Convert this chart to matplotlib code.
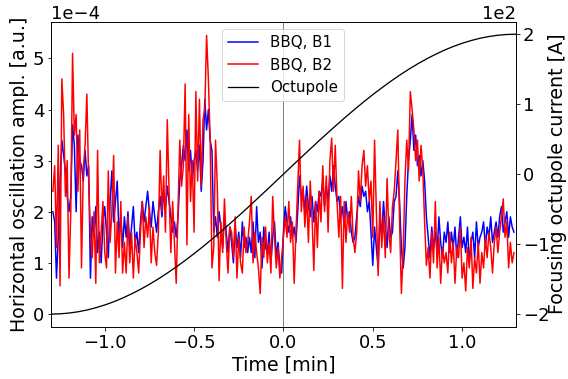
import numpy as np
import matplotlib
matplotlib.use('Agg')
import matplotlib.pyplot as plt

# 시간축 (min), 0.01 min 간격
time = np.round(np.arange(-1.29, 1.2901, 0.01), 2)

# BBQ B1 (blue) 진폭 [1e-4 a.u.] - 그림에서 읽은 값
bbq_b1 = [
    2.0, 1.8, 0.7, 1.5, 2.6, 3.4, 3.1, 2.8, 2.3, 2.0,
    2.3, 3.7, 3.3, 2.0, 3.5, 3.0, 2.9, 2.6, 3.2, 2.7,
    2.9, 0.7, 1.9, 1.5, 2.1, 1.2, 1.6, 1.0, 1.8, 2.1,
    1.6, 1.1, 2.2, 2.8, 1.8, 2.2, 2.6, 1.5, 1.9, 1.3,
    1.9, 1.5, 2.0, 1.3, 1.7, 2.1, 1.4, 1.6, 1.2, 1.8,
    2.2, 1.8, 2.1, 2.4, 2.0, 1.7, 2.2, 1.9, 1.6, 2.0,
    2.3, 1.9, 2.4, 2.1, 2.5, 2.2, 1.9, 1.6, 1.8, 1.5,
    1.9, 2.6, 2.9, 3.3, 3.0, 3.6, 2.8, 3.2, 2.6, 3.0,
    3.2, 2.8, 3.3, 2.4, 3.0, 4.2, 3.6, 4.0, 3.4, 3.2,
    1.6, 1.9, 1.5, 2.0, 1.7, 1.3, 1.9, 1.6, 1.2, 1.7,
    1.4, 1.0, 1.7, 1.3, 1.6, 1.1, 1.8, 1.3, 1.5, 1.2,
    1.5, 1.2, 1.8, 1.1, 2.1, 1.4, 1.6, 0.9, 1.7, 1.3,
    1.2, 1.6, 1.0, 1.5, 1.8, 1.1, 1.4, 0.9, 0.8, 1.6,
    2.1, 1.8, 1.6, 1.9, 1.5, 1.7, 1.4, 2.0, 2.7, 2.3,
    2.4, 2.0, 2.5, 2.1, 1.9, 2.3, 1.8, 2.2, 2.0, 2.4,
    2.3, 2.6, 2.1, 2.5, 2.2, 2.7, 2.4, 2.9, 2.5, 2.2,
    2.3, 1.9, 2.1, 1.7, 2.2, 1.8, 2.0, 1.6, 1.4, 1.5,
    1.9, 2.3, 2.1, 2.5, 2.3, 2.4, 2.0, 2.2, 1.6, 0.95,
    1.7, 1.3, 0.9, 1.9, 1.5, 2.2, 1.7, 1.3, 1.9, 1.5,
    1.6, 2.2, 2.3, 2.8, 2.2, 1.3, 0.9, 1.3, 2.3, 3.0,
    3.4, 3.9, 3.2, 3.5, 2.9, 3.1, 2.7, 3.0, 2.6, 1.9,
    1.5, 1.1, 1.7, 1.3, 1.6, 1.2, 1.9, 1.4, 1.1, 1.6,
    1.4, 1.8, 1.2, 1.6, 1.3, 1.7, 1.1, 1.5, 1.9, 1.3,
    1.5, 1.2, 1.7, 1.0, 1.4, 1.6, 1.1, 1.8, 1.3, 1.5,
    1.6, 1.8, 1.3, 1.7, 1.5, 1.9, 1.4, 1.6, 1.8, 1.5,
    1.9, 2.1, 1.6, 1.8, 2.0, 1.5, 1.9, 1.7, 1.6,
]

# BBQ B2 (red) 진폭 [1e-4 a.u.]
bbq_b2 = [
    2.4, 2.9, 1.3, 3.3, 0.55, 4.6, 3.9, 2.3, 3.0, 0.7,
    2.0, 5.1, 3.5, 3.9, 2.4, 3.6, 0.9, 2.8, 3.3, 4.3,
    2.6, 1.6, 1.1, 2.0, 0.6, 3.2, 1.0, 1.6, 2.2, 1.2,
    0.9, 2.8, 1.4, 2.0, 3.1, 0.8, 1.8, 1.1, 2.2, 0.8,
    1.4, 0.8, 1.9, 1.0, 1.6, 0.7, 1.5, 1.2, 0.8, 1.6,
    2.2, 1.3, 1.9, 1.5, 2.1, 1.0, 1.7, 1.2, 0.95, 1.6,
    3.2, 2.0, 2.7, 1.6, 3.8, 2.4, 1.2, 2.2, 1.4, 0.6,
    2.0, 3.4, 2.5, 2.9, 4.5, 1.35, 3.9, 2.2, 3.0, 1.6,
    4.35, 2.6, 4.2, 2.5, 3.8, 4.0, 5.45, 4.6, 3.4, 0.9,
    1.3, 3.4, 2.5, 0.65, 1.8, 1.2, 2.25, 1.4, 0.8, 1.7,
    1.6, 1.1, 1.9, 0.7, 1.5, 1.0, 0.8, 1.7, 1.2, 1.4,
    1.8, 2.3, 1.0, 1.6, 1.2, 0.9, 0.4, 1.5, 1.1, 1.7,
    1.0, 1.4, 0.8, 2.3, 1.5, 0.9, 1.3, 0.7, 1.1, 1.5,
    1.9, 1.5, 2.2, 1.4, 1.8, 0.6, 1.6, 2.5, 3.4, 2.0,
    2.5, 1.7, 2.3, 1.4, 2.6, 1.9, 0.85, 2.2, 1.3, 2.4,
    1.8, 2.9, 2.0, 2.7, 1.6, 3.0, 3.44, 2.4, 3.3, 2.2,
    1.5, 2.3, 0.5, 2.2, 1.4, 2.0, 1.6, 2.3, 1.5, 1.2,
    1.6, 2.8, 2.2, 2.9, 3.2, 2.5, 2.9, 2.2, 2.6, 1.5,
    3.4, 2.0, 0.75, 2.2, 1.3, 1.9, 1.1, 2.65, 1.6, 1.2,
    2.1, 2.4, 3.0, 3.6, 1.8, 0.4, 1.2, 2.6, 3.4, 2.8,
    4.35, 4.0, 3.6, 3.0, 3.4, 2.6, 3.3, 2.8, 1.8, 0.95,
    1.3, 0.7, 1.6, 1.0, 2.2, 0.9, 1.5, 0.6, 1.3, 1.0,
    1.2, 0.8, 1.6, 1.0, 1.4, 0.6, 1.3, 1.1, 1.7, 0.7,
    1.0, 0.45, 1.3, 0.9, 1.5, 0.5, 1.1, 0.8, 1.4, 0.6,
    1.2, 0.9, 1.5, 1.1, 1.6, 1.3, 0.8, 1.4, 1.7, 1.2,
    1.6, 1.9, 2.25, 1.5, 1.8, 0.9, 1.4, 1.0, 1.2,
]

# 옥투폴 전류 [A], 0.05 min 간격
oct_time = np.round(np.arange(-1.3, 1.3001, 0.05), 2)
oct_current = [
    -200.0, -199.6, -198.5, -196.7, -194.2, -190.9, -187.0, -182.4, -177.1,
    -171.1, -164.6, -157.4, -149.7, -141.4, -132.6, -123.3, -113.6, -103.5,
    -92.9, -82.1, -70.9, -59.5, -47.9, -36.0, -24.1, -12.1, 0.0,
    12.1, 24.1, 36.0, 47.9, 59.5, 70.9, 82.1, 92.9, 103.5,
    113.6, 123.3, 132.6, 141.4, 149.7, 157.4, 164.6, 171.1, 177.1,
    182.4, 187.0, 190.9, 194.2, 196.7, 198.5, 199.6, 200.0,
]

# 72 dpi 기준 그림 (568 x 379 px)
fig, ax1 = plt.subplots(figsize=(568 / 72, 379 / 72), dpi=72)
fig.subplots_adjust(left=0.09, right=0.908, top=0.943, bottom=0.138)

ax1.axvline(0, color='grey', linewidth=1)
l1, = ax1.plot(time, np.array(bbq_b1) * 1e-4, color='blue', linewidth=1.5, label='BBQ, B1')
l2, = ax1.plot(time, np.array(bbq_b2) * 1e-4, color='red', linewidth=1.5, label='BBQ, B2')
ax1.set_xlim(-1.3, 1.3)
ax1.set_ylim(-0.25e-4, 5.72e-4)
ax1.set_xlabel('Time [min]', fontsize=19)
ax1.set_ylabel('Horizontal oscillation ampl. [a.u.]', fontsize=19)
ax1.ticklabel_format(axis='y', style='sci', scilimits=(0, 0))
ax1.tick_params(labelsize=18)
ax1.yaxis.get_offset_text().set_fontsize(18)

ax2 = ax1.twinx()
l3, = ax2.plot(oct_time, oct_current, color='black', linewidth=1.3, label='Octupole')
ax2.set_ylim(-218, 218)
ax2.set_ylabel('Focusing octupole current [A]', fontsize=19)
ax2.yaxis.set_label_coords(1.0695, 0.5)
ax2.ticklabel_format(axis='y', style='sci', scilimits=(0, 0))
ax2.tick_params(labelsize=18)
ax2.yaxis.get_offset_text().set_fontsize(18)

lines = [l1, l2, l3]
ax2.legend(lines, [l.get_label() for l in lines], loc='upper center', fontsize=15)

plt.savefig('out.png', dpi=72)
